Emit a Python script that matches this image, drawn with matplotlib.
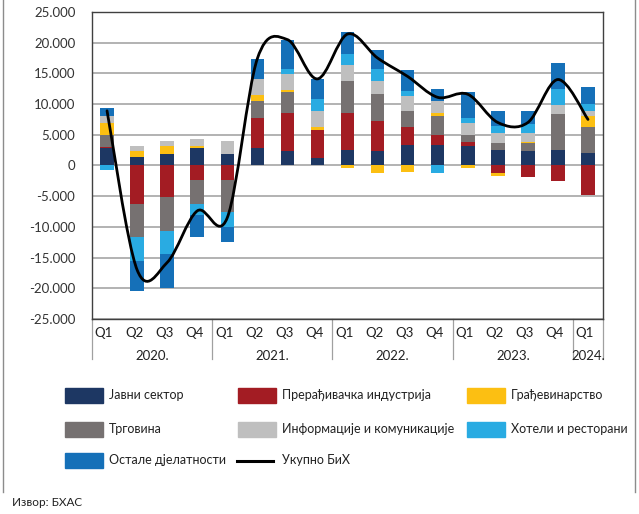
import numpy as np
import matplotlib
matplotlib.use("Agg")
import matplotlib.pyplot as plt
from matplotlib.path import Path
from matplotlib.patches import PathPatch, Rectangle
from matplotlib.lines import Line2D
from matplotlib.ticker import FuncFormatter

plt.rcParams['font.family'] = ['Lato', 'DejaVu Sans']

# quarterly contributions (2020 Q1 - 2024 Q1)
quarters = ["Q1", "Q2", "Q3", "Q4"] * 4 + ["Q1"]
years = ["2020.", "2021.", "2022.", "2023.", "2024."]
year_len = [4, 4, 4, 4, 1]

javni = [2800, 1450, 1800, 2850, 1800, 2850, 2300, 1250, 2500, 2300, 3400, 3400, 3100, 2500, 2300, 2600, 2050]
preradj = [150, -6200, -5100, -2300, -2300, 4950, 6300, 4550, 6100, 4950, 2800, 1600, 800, -1200, -1800, -2600, -4850]
trgovina = [1950, -5500, -5500, -3900, -5200, 2700, 3350, 0, 5200, 4400, 2700, 3050, 1000, 1100, 1300, 5750, 4150]
gradj = [2000, 850, 1400, 300, 0, 1050, 300, 400, -400, -1250, -1000, 500, -400, -550, 300, 100, 1900]
info = [1100, 900, 850, 1150, 2250, 2500, 2700, 2700, 2500, 2150, 2400, 1950, 1950, 1650, 1350, 1350, 800]
hoteli = [-700, -3900, -3800, -1900, -2500, 0, 800, 2000, 1900, 1950, 900, -1250, 900, 1200, 1450, 2600, 1100]
ostale = [1350, -4850, -5500, -3600, -2500, 3300, 4700, 3250, 3600, 3050, 3300, 2000, 4150, 2400, 2150, 4300, 2850]
ukupno = [8900, -17000, -15800, -7400, -8500, 17400, 20500, 14100, 21400, 17500, 14500, 11100, 11600, 7000, 7000, 14000, 7500]

series = [
    ("Јавни сектор", javni, "#1d3763"),
    ("Прерађивачка индустрија", preradj, "#a31c23"),
    ("Трговина", trgovina, "#767171"),
    ("Грађевинарство", gradj, "#fcbf12"),
    ("Информације и комуникације", info, "#bfbfbf"),
    ("Хотели и ресторани", hoteli, "#29abe2"),
    ("Остале дјелатности", ostale, "#1570b8"),
]

fig = plt.figure(figsize=(6.39, 5.14), dpi=100)
ax = fig.add_axes([0.144, 0.3794, 0.7997, 0.5973])

x = np.arange(len(quarters))
pos_base = np.zeros(len(x))
neg_base = np.zeros(len(x))
for name, vals, col in series:
    v = np.array(vals, dtype=float)
    p = np.where(v > 0, v, 0)
    n = np.where(v < 0, v, 0)
    ax.bar(x, p, 0.45, bottom=pos_base, color=col, zorder=3)
    ax.bar(x, n, 0.45, bottom=neg_base, color=col, zorder=3)
    pos_base += p
    neg_base += n

# smoothed total line (Excel-like bezier through the points)
y = np.array(ukupno, dtype=float)
verts = [(x[0], y[0])]
codes = [Path.MOVETO]
for i in range(len(x) - 1):
    y0 = y[i - 1] if i > 0 else y[i]
    y3 = y[i + 2] if i + 2 < len(x) else y[i + 1]
    x0 = x[i - 1] if i > 0 else x[i]
    x3 = x[i + 2] if i + 2 < len(x) else x[i + 1]
    c1 = (x[i] + (x[i + 1] - x0) / 6, y[i] + (y[i + 1] - y0) / 6)
    c2 = (x[i + 1] - (x3 - x[i]) / 6, y[i + 1] - (y3 - y[i]) / 6)
    verts += [c1, c2, (x[i + 1], y[i + 1])]
    codes += [Path.CURVE4] * 3
ax.add_patch(PathPatch(Path(verts, codes), fill=False, lw=2.0, color="black",
                       zorder=4, capstyle="round", joinstyle="round"))

ax.set_xlim(-0.5, len(x) - 0.5)
ax.set_ylim(-25000, 25000)
ax.set_yticks(np.arange(-25000, 25001, 5000))
ax.yaxis.set_major_formatter(FuncFormatter(lambda v, p: f"{int(v):,}".replace(",", ".")))
ax.grid(axis="y", color="#a6a6a6", lw=1.2, zorder=0)
ax.tick_params(axis="y", length=0, labelsize=9.5, colors="#333333", pad=12)
ax.set_xticks([])
for s in ax.spines.values():
    s.set_color("#404040")
    s.set_linewidth(1.0)

# quarter and year labels
for i, q in enumerate(quarters):
    ax.text(i - 0.1, -27300, q, ha="center", va="center", fontsize=9.5, color="#222222")
start = 0
bounds = [-0.5]
for yr, n in zip(years, year_len):
    ax.text(start + n / 2 - 0.5, -31000, yr, ha="center", va="center", fontsize=9.5, color="#222222")
    start += n
    bounds.append(start - 0.5)
for b in bounds:
    ax.plot([b, b], [-25000, -31500], color="#a0a0a0", lw=0.9, clip_on=False)

# legend drawn in figure coordinates, row-wise
W, H = 639, 514
leg_items = [
    ("Јавни сектор", "#1d3763", 65, 395),
    ("Прерађивачка индустрија", "#a31c23", 238, 395),
    ("Грађевинарство", "#fcbf12", 467, 395),
    ("Трговина", "#767171", 65, 429),
    ("Информације и комуникације", "#bfbfbf", 238, 429),
    ("Хотели и ресторани", "#29abe2", 467, 429),
    ("Остале дјелатности", "#1570b8", 65, 460),
]
for name, col, px, py in leg_items:
    fig.patches.append(Rectangle((px / W, 1 - (py + 7.5) / H), 38 / W, 15 / H,
                                 transform=fig.transFigure, color=col))
    fig.text((px + 44) / W, 1 - py / H, name, ha="left", va="center", fontsize=9, color="#222222")
fig.lines.append(Line2D([237 / W, 273 / W], [1 - 461 / H] * 2, transform=fig.transFigure,
                        color="black", lw=2.2))
fig.text(282 / W, 1 - 460 / H, "Укупно БиХ", ha="left", va="center", fontsize=9, color="#222222")

fig.text(12 / W, 1 - 503 / H, "Извор: БХАС", ha="left", va="center", fontsize=8.5, color="#222222")

# outer frame lines
for fx in (3, 635):
    fig.lines.append(Line2D([fx / W] * 2, [1, 1 - 492 / H], transform=fig.transFigure,
                            color="#8c8c8c", lw=1.0))

fig.savefig("out.png", dpi=100)
